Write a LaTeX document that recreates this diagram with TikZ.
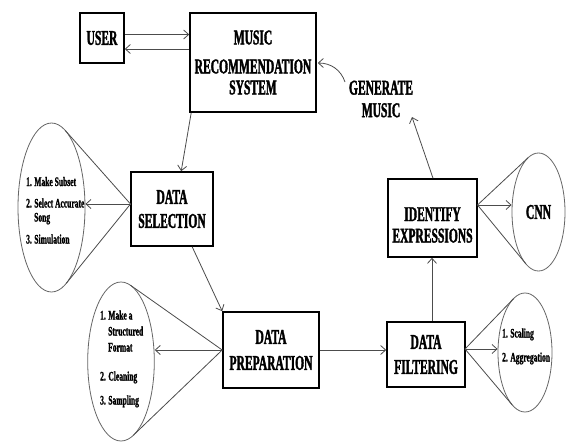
\documentclass[tikz,border=0pt]{standalone}
\usepackage{fontspec}
\usetikzlibrary{shapes.geometric,arrows.meta,calc}
\newfontfamily\condserif[FakeStretch=0.55, FakeBold=1.6, UprightFont={* Bold}]{Liberation Serif}
\newfontfamily\condsmall[FakeStretch=0.58, FakeBold=1.2, UprightFont={* Bold}]{Liberation Serif}
\newcommand{\boxfont}{\condserif\fontsize{21}{24}\selectfont}
\newcommand{\itemfont}{\condsmall\fontsize{13}{15}\selectfont}
\tikzset{
  box/.style={draw=black, line width=1.6pt, fill=white, inner sep=0pt, align=center, font=\boxfont},
  boxtext/.style={inner sep=0pt, align=center, font=\boxfont},
  oval/.style={draw=black!60, line width=0.8pt, ellipse, inner sep=0pt, font=\boxfont},
  conn/.style={draw=black!70, line width=0.8pt},
  arr/.style={conn, -{Straight Barb[length=5pt,width=9pt]}},
  itemtext/.style={anchor=base west, inner sep=0pt, font=\itemfont},
}
\begin{document}
\begin{tikzpicture}[x=1pt,y=-1pt]
\fill[white] (0,0) rectangle (571,442);
\useasboundingbox (0,0) rectangle (571,442);

% boxes
\node[box, minimum width=44pt, minimum height=50pt] (user) at (102,38) {USER};
\node[box, minimum width=126pt, minimum height=99pt] (mrs) at (253,62.5) {MUSIC\\[5pt]RECOMMENDATION\\[-3pt]SYSTEM};
\node[box, minimum width=82pt, minimum height=74pt] (ds) at (172,209) {DATA\\SELECTION};
\node[box, minimum width=96pt, minimum height=76pt] (dp) at (271,350) {DATA\\[2pt]PREPARATION};
\node[box, minimum width=78pt, minimum height=65pt] (df) at (426,354.5) {DATA\\[1pt]FILTERING};
\node[box, minimum width=89pt, minimum height=78pt] (ie) at (432.5,218) {};
\node[boxtext] (ietext) at (432.5,225) {IDENTIFY\\[-2.5pt]EXPRESSIONS};
\node[boxtext] (gm) at (381,99) {GENERATE\\[-1.5pt]MUSIC};

% ellipses
\node[oval, minimum width=67pt, minimum height=169pt] (e1) at (51.5,207.5) {};
\node[oval, minimum width=66.6pt, minimum height=159pt] (e2) at (121,361.5) {};
\node[oval, minimum width=54pt, minimum height=119pt] (e3) at (525,352.5) {};
\node[oval, minimum width=53pt, minimum height=118pt] (cnn) at (538.5,212) {CNN};

% ellipse texts
\node[itemtext] (t11) at (26,186) {1. Make Subset};
\node[itemtext] (t12) at (26,207.5) {2. Select Accurate};
\node[itemtext] (t13) at (34,221.5) {Song};
\node[itemtext] (t14) at (26,243.5) {3. Simulation};
\node[itemtext] (t21) at (100,319.5) {1. Make a};
\node[itemtext] (t22) at (108,335.5) {Structured};
\node[itemtext] (t23) at (108,351.5) {Format};
\node[itemtext] (t24) at (100,380.5) {2. Cleaning};
\node[itemtext] (t25) at (100,404.5) {3. Sampling};
\node[itemtext] (t31) at (502,337.5) {1. Scaling};
\node[itemtext] (t32) at (502,361.5) {2. Aggregation};

% cone coordinates
\coordinate (a1) at (130.5,204);
\coordinate (e1u) at (65.3,130.5);
\coordinate (e1d) at (66.3,283.3);
\coordinate (e2u) at (130.4,285.2);
\coordinate (e2d) at (133.3,435.3);
\coordinate (a3) at (465,349);
\coordinate (e3u) at (513.5,298.7);
\coordinate (e3d) at (512.2,404.9);
\coordinate (a4) at (477.5,205);
\coordinate (cu) at (528.1,157.7);
\coordinate (cd) at (525.7,263.6);
\coordinate (gmtip) at (412,117);
\coordinate (gmstart) at (345,82);

% cones
\draw[conn] (e1u) -- (a1) -- (e1d);
\draw[conn] (e2u) -- (dp.west) -- (e2d);
\draw[conn] (e3u) -- (a3) -- (e3d);
\draw[conn] (cu) -- (a4) -- (cd);

% arrows to ellipses
\draw[arr] (a1) -- (a1 -| e1.east);
\draw[arr] (dp.west) -- (dp.west -| e2.east);
\draw[arr] (a3) -- (a3 -| e3.west);
\draw[arr] (a4) -- (a4 -| cnn.west);

% main flow
\draw[arr] ($(user.east)+(0,-3.5)$) -- ($(mrs.west)+(0,-28)$);
\draw[arr] ($(mrs.west)+(0,-13.5)$) -- ($(user.east)+(0,11)$);
\draw[arr] ($(mrs.south west)+(2,0)$) -- ($(ds.north west)+(51,0)$);
\draw[arr] ($(ds.south west)+(62,0)$) -- (dp.north west);
\draw[arr] (dp.east) -- (dp.east -| df.west);
\draw[arr] ($(df.north)+(6,0)$) -- ($(ie.south)+(-0.5,0)$);
\draw[arr] ($(ie.north)+(0.5,0)$) -- (gmtip);
\draw[arr] (gmstart) .. controls (341,70) and (331,63) .. ($(mrs.east)+(1,0.5)$);
\end{tikzpicture}
\end{document}
